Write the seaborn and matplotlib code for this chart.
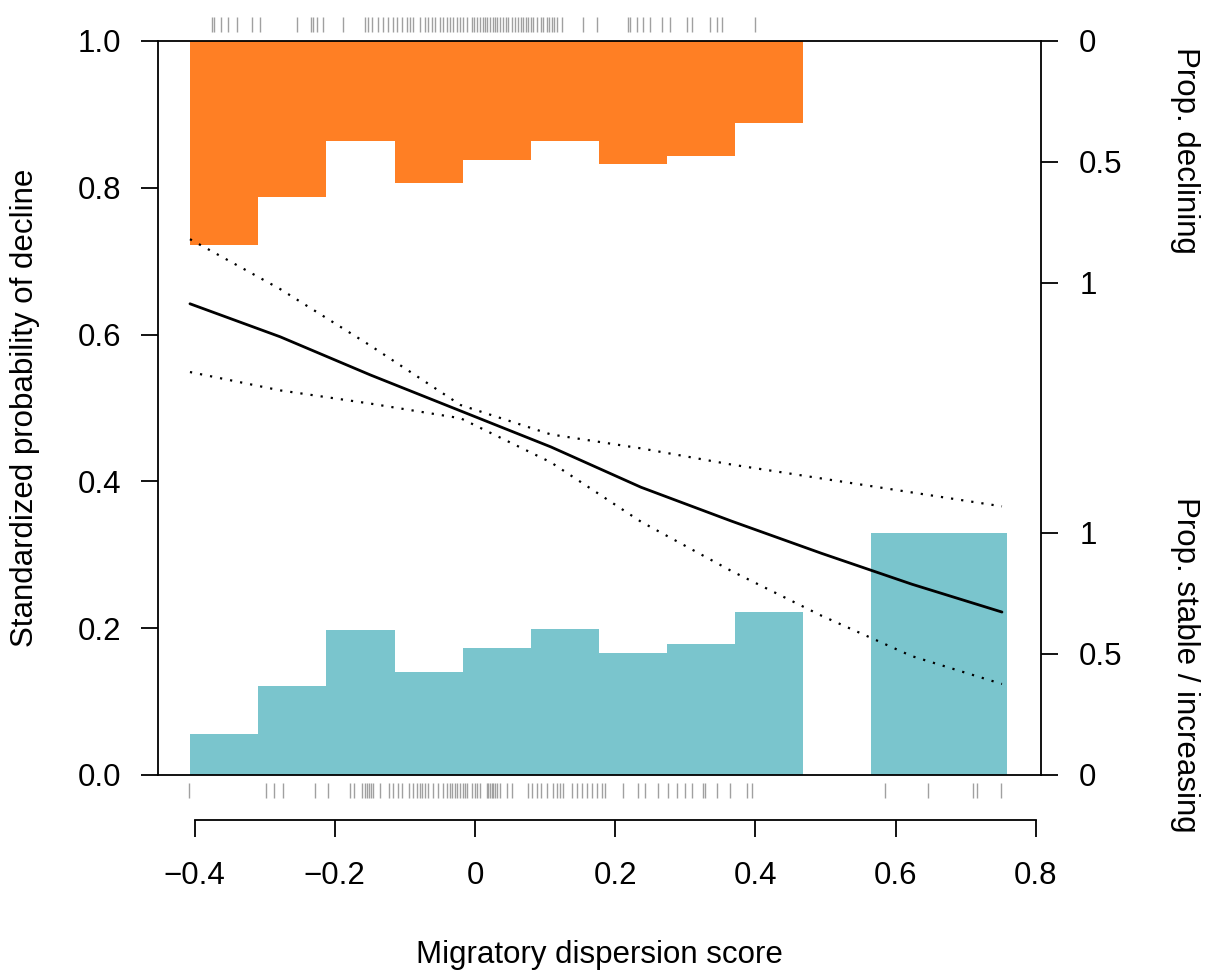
import numpy as np
import matplotlib
matplotlib.use("Agg")
import matplotlib.pyplot as plt
import seaborn as sns

# ---------------- data ----------------
# histogram bins (migratory dispersion score)
bin_edges = [-0.4063, -0.3091, -0.2120, -0.1148, -0.0177, 0.0795, 0.1766,
             0.2738, 0.3709, 0.4681, 0.5652, 0.6624, 0.7595]
prop_declining = [0.843, 0.645, 0.413, 0.585, 0.492, 0.413, 0.508, 0.475,
                  0.339, 0.0, 0.0, 0.0]
prop_stable = [0.169, 0.368, 0.599, 0.426, 0.525, 0.603, 0.504, 0.543,
               0.674, 0.0, 1.0, 1.0]

# fitted standardized probability of decline with confidence limits
x_eval = [-0.4066, -0.2779, -0.1492, -0.0205, 0.1082, 0.2369, 0.3656,
          0.4943, 0.6230, 0.7517]
fit = [0.642, 0.597, 0.545, 0.496, 0.447, 0.392, 0.346, 0.302, 0.260, 0.222]
upper = [0.730, 0.662, 0.585, 0.504, 0.464, 0.445, 0.423, 0.404, 0.385, 0.366]
lower = [0.549, 0.524, 0.506, 0.486, 0.426, 0.345, 0.278, 0.217, 0.162, 0.124]

# species scores (rugs)
rug_declining = [-0.3756, -0.3723, -0.3628, -0.3524, -0.3399, -0.3185, -0.3067,
                 -0.2544, -0.2340, -0.2311, -0.2258, -0.2168, -0.1883,
                 -0.1569, -0.1526, -0.1474, -0.1384, -0.1312, -0.1241, -0.1170,
                 -0.1117, -0.1046, -0.0974, -0.0927, -0.0884, -0.0785, -0.0713,
                 -0.0670, -0.0618, -0.0571, -0.0499, -0.0456, -0.0404, -0.0357,
                 -0.0314, -0.0261, -0.0214, -0.0171, -0.0118, -0.0047, -0.0014,
                 0.0024, 0.0071, 0.0110, 0.0143, 0.0175, 0.0214, 0.0252, 0.0285,
                 0.0318, 0.0357, 0.0395, 0.0442, 0.0475, 0.0524, 0.0571, 0.0618,
                 0.0652, 0.0689, 0.0728, 0.0760, 0.0795, 0.0832, 0.0880, 0.0937,
                 0.0974, 0.1023, 0.1060, 0.1094, 0.1127, 0.1174, 0.1237, 0.1545,
                 0.1736, 0.2187, 0.2211, 0.2307, 0.2401, 0.2496, 0.2663, 0.2782,
                 0.3020, 0.3091, 0.3352, 0.3448, 0.3519, 0.3994]
rug_stable = [-0.4076, -0.2981, -0.2863, -0.2743, -0.2282, -0.2093, -0.1783,
              -0.1722, -0.1616, -0.1569, -0.1541, -0.1512, -0.1484, -0.1455,
              -0.1355, -0.1223, -0.1165, -0.1094, -0.1046, -0.0937, -0.0880,
              -0.0823, -0.0785, -0.0749, -0.0713, -0.0670, -0.0595, -0.0524,
              -0.0452, -0.0404, -0.0357, -0.0328, -0.0292, -0.0257, -0.0214,
              -0.0178, -0.0143, -0.0107, -0.0047, 0.0000, 0.0033, 0.0071,
              0.0167, 0.0190, 0.0214, 0.0238, 0.0261, 0.0285, 0.0310, 0.0357,
              0.0461, 0.0532, 0.0760, 0.0809, 0.0880, 0.0937, 0.1023, 0.1117,
              0.1165, 0.1213, 0.1260, 0.1379, 0.1451, 0.1522, 0.1593, 0.1665,
              0.1736, 0.1807, 0.1855, 0.2116, 0.2330, 0.2425, 0.2615, 0.2757,
              0.2877, 0.2996, 0.3091, 0.3257, 0.3281, 0.3448, 0.3638, 0.3876,
              0.3947, 0.5849, 0.6466, 0.7108, 0.7157, 0.7499]

x_ticks = [-0.4, -0.2, 0.0, 0.2, 0.4, 0.6, 0.8]
x_ticklabels = ["\u22120.4", "\u22120.2", "0", "0.2", "0.4", "0.6", "0.8"]
y_ticks = [0.0, 0.2, 0.4, 0.6, 0.8, 1.0]
y_ticklabels = ["0.0", "0.2", "0.4", "0.6", "0.8", "1.0"]
prop_ticks = [0, 0.5, 1]
prop_ticklabels = ["0", "0.5", "1"]

# ---------------- style ----------------
sns.set_style("white")
plt.rcParams["font.family"] = ["Liberation Sans", "DejaVu Sans"]
plt.rcParams["text.color"] = "black"
plt.rcParams["axes.labelcolor"] = "black"
plt.rcParams["xtick.color"] = "black"
plt.rcParams["ytick.color"] = "black"
FS = 22.5
LW = 1.3
ORANGE = "#FF7F24"
TEAL = "#7AC5CD"
RUGCOL = "#a0a0a0"

W, H = 1213, 976
fig = plt.figure(figsize=(W / 100, H / 100), dpi=100)
fig.patch.set_facecolor("white")
L, R, T, B = 158, 1041, 41, 775
ax = fig.add_axes([L / W, 1 - B / H, (R - L) / W, (B - T) / H])
ax_top = ax.twinx()
ax_bot = ax.twinx()
ax.set_zorder(5)
ax.patch.set_visible(False)

centers = [(a + b) / 2 for a, b in zip(bin_edges[:-1], bin_edges[1:])]
hist_scale = (B - T) / 242.0  # proportion axis spans ~1/3 of plot height

sns.histplot(x=centers, weights=prop_declining, bins=bin_edges, ax=ax_top,
             color=ORANGE, alpha=1, linewidth=0, edgecolor="none")
sns.histplot(x=centers, weights=prop_stable, bins=bin_edges, ax=ax_bot,
             color=TEAL, alpha=1, linewidth=0, edgecolor="none")
ax_top.set_ylim(hist_scale, 0)
ax_bot.set_ylim(0, hist_scale)

for a in (ax_top, ax_bot):
    for sp in a.spines.values():
        sp.set_visible(False)
    a.set_ylabel("")
    a.set_xlabel("")
    a.set_yticks(prop_ticks)
    a.set_yticklabels(prop_ticklabels)
    a.tick_params(axis="y", right=True, left=False, labelright=True,
                  labelleft=False, direction="out", length=12.5, width=LW,
                  pad=15, labelsize=FS, colors="black")

# fitted line and limits
sns.lineplot(x=x_eval, y=fit, ax=ax, color="black", linewidth=2.0)
sns.lineplot(x=x_eval, y=upper, ax=ax, color="black", linewidth=1.6,
             linestyle=(0, (1, 3.6)))
sns.lineplot(x=x_eval, y=lower, ax=ax, color="black", linewidth=1.6,
             linestyle=(0, (1, 3.6)))

# rugs
ax.vlines(rug_declining, 1.0123, 1.0327, color=RUGCOL, linewidth=1.0,
          clip_on=False)
ax.vlines(rug_stable, -0.0109, -0.0313, color=RUGCOL, linewidth=1.0,
          clip_on=False)

ax.set_xlim(-0.4522, 0.8074)
ax.set_ylim(0, 1)

# axes & box
for s in ("left", "top", "right"):
    ax.spines[s].set_visible(True)
    ax.spines[s].set_color("black")
    ax.spines[s].set_linewidth(LW)
ax.spines["bottom"].set_position(("outward", 45 * 0.72))
ax.spines["bottom"].set_bounds(-0.4, 0.8)
ax.spines["bottom"].set_color("black")
ax.spines["bottom"].set_linewidth(LW)
ax.axhline(0, color="black", linewidth=LW, clip_on=False, zorder=6)

ax.set_xticks(x_ticks)
ax.set_xticklabels(x_ticklabels)
ax.set_yticks(y_ticks)
ax.set_yticklabels(y_ticklabels)
ax.tick_params(axis="x", bottom=True, direction="out", length=12.5, width=LW,
               pad=17, labelsize=FS, colors="black")
ax.tick_params(axis="y", left=True, right=False, direction="out", length=12.5,
               width=LW, pad=14, labelsize=FS, colors="black")
ax.set_xlabel("")
ax.set_ylabel("")

ax.text(0.5, (B - 955) / (B - T), "Migratory dispersion score",
        transform=ax.transAxes, ha="center", va="center", fontsize=FS,
        color="black")
ax.text((25 - L) / (R - L), 0.5, "Standardized probability of decline",
        transform=ax.transAxes, ha="center", va="center", rotation=90,
        fontsize=FS, color="black")
ax.text((1185 - L) / (R - L), (B - 150) / (B - T), "Prop. declining",
        transform=ax.transAxes, ha="center", va="center", rotation=270,
        fontsize=FS, color="black")
ax.text((1185 - L) / (R - L), (B - 665) / (B - T), "Prop. stable / increasing",
        transform=ax.transAxes, ha="center", va="center", rotation=270,
        fontsize=FS, color="black")

fig.savefig("out.png", dpi=100, facecolor="white")
